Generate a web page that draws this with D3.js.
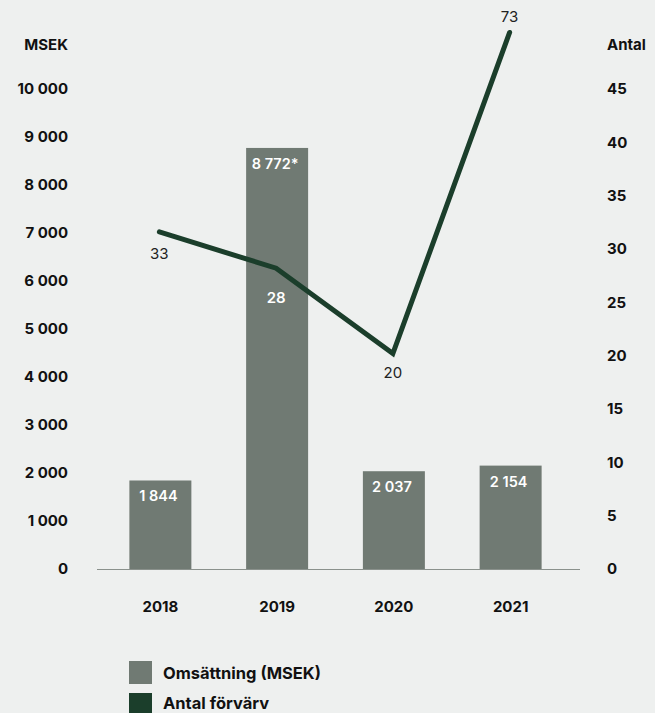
<!DOCTYPE html>
<html><head><meta charset="utf-8">
<script src="https://cdn.jsdelivr.net/npm/d3@7"></script>
<style>
html,body{margin:0;padding:0;background:#eef0ef;}
svg{display:block;font-family:Inter, "Noto Sans", sans-serif;}
</style></head>
<body><svg id="c" width="655" height="713"></svg>
<script>
// ---- data ----
const years = ["2018", "2019", "2020", "2021"];
const omsattning = [1844, 8772, 2037, 2154];
const omsattningLabels = ["1 844", "8 772*", "2 037", "2 154"];
const antal = [33, 28, 20, 73];               // labelled values
const antalPlotted = [31.6, 28.2, 20.2, 50.3]; // positions as drawn in the reference
const leftTicks = [0, 1000, 2000, 3000, 4000, 5000, 6000, 7000, 8000, 9000, 10000];
const rightTicks = [0, 5, 10, 15, 20, 25, 30, 35, 40, 45];
const legendItems = ["Omsättning (MSEK)", "Antal förvärv"];

const barColor = "#707a73", lineColor = "#1b3e2b", textColor = "#111";
const svg = d3.select("#c");
svg.append("rect").attr("width", 655).attr("height", 713).attr("fill", "#eef0ef");

const x = d3.scaleBand().domain(years).range([102, 569]).paddingInner(0.469).paddingOuter(0.2345);
const yL = d3.scaleLinear().domain([0, 10000]).range([569, 89]);
const yR = d3.scaleLinear().domain([0, 45]).range([569, 89]);
const loc = d3.formatLocale({decimal: ",", thousands: " ", grouping: [3], currency: ["", ""]});
const fmt = loc.format(",d");

// left axis
const gL = svg.append("g").attr("transform", "translate(68,0)")
  .call(d3.axisLeft(yL).tickValues(leftTicks).tickFormat(fmt).tickSize(0).tickPadding(0));
gL.select(".domain").remove();
gL.selectAll("text").attr("font-size", 15).attr("font-weight", 700).attr("fill", textColor)
  .attr("font-family", "Inter, sans-serif");
svg.append("text").attr("x", 68).attr("y", 50).attr("text-anchor", "end")
  .attr("font-size", 15).attr("font-weight", 700).attr("fill", textColor).text("MSEK");

// right axis
const gR = svg.append("g").attr("transform", "translate(607,0)")
  .call(d3.axisRight(yR).tickValues(rightTicks).tickSize(0).tickPadding(0));
gR.select(".domain").remove();
gR.selectAll("text").attr("font-size", 15).attr("font-weight", 700).attr("fill", textColor)
  .attr("font-family", "Inter, sans-serif");
svg.append("text").attr("x", 607).attr("y", 50).attr("text-anchor", "start")
  .attr("font-size", 15).attr("font-weight", 700).attr("fill", textColor).text("Antal");

// bars
svg.selectAll("rect.bar").data(years).join("rect").attr("class", "bar")
  .attr("x", d => x(d)).attr("width", x.bandwidth())
  .attr("y", (d, i) => yL(omsattning[i])).attr("height", (d, i) => yL(0) - yL(omsattning[i]))
  .attr("fill", barColor);
svg.selectAll("text.blab").data(years).join("text").attr("class", "blab")
  .attr("x", d => x(d) + x.bandwidth() / 2 - 2).attr("y", (d, i) => yL(omsattning[i]) + 21)
  .attr("text-anchor", "middle").attr("font-size", 14.5).attr("font-weight", 600).attr("fill", "#fff")
  .text((d, i) => omsattningLabels[i]);

// baseline
svg.append("line").attr("x1", 97).attr("x2", 580).attr("y1", yL(0) + 0.5).attr("y2", yL(0) + 0.5)
  .attr("stroke", "#8a918c").attr("stroke-width", 1);

// x labels
svg.selectAll("text.xl").data(years).join("text").attr("class", "xl")
  .attr("x", d => x(d) + x.bandwidth() / 2).attr("y", 612).attr("text-anchor", "middle")
  .attr("font-size", 15).attr("font-weight", 700).attr("fill", textColor).text(d => d);

// line
const cx = i => x(years[i]) + x.bandwidth() / 2 - 1;
const lineGen = d3.line().x((d, i) => cx(i)).y(d => yR(d));
svg.append("path").datum(antalPlotted).attr("d", lineGen).attr("fill", "none")
  .attr("stroke", lineColor).attr("stroke-width", 5).attr("stroke-linecap", "round").attr("stroke-linejoin", "miter");

// line labels
const lblOff = [27, 35, 24, -10];
const lblStyle = [
  {fill: "#222", w: 400}, {fill: "#fff", w: 600}, {fill: "#222", w: 400}, {fill: "#222", w: 400}
];
svg.selectAll("text.ll").data(antal).join("text").attr("class", "ll")
  .attr("x", (d, i) => cx(i))
  .attr("y", (d, i) => yR(antalPlotted[i]) + lblOff[i])
  .attr("text-anchor", "middle").attr("font-size", 15)
  .attr("font-weight", (d, i) => lblStyle[i].w).attr("fill", (d, i) => lblStyle[i].fill)
  .text(d => d);

// legend
const lg = svg.append("g");
const legColors = [barColor, lineColor];
legendItems.forEach((t, i) => {
  lg.append("rect").attr("x", 129).attr("y", 661 + i * 32).attr("width", 23).attr("height", 23).attr("fill", legColors[i]);
  lg.append("text").attr("x", 163).attr("y", 679 + i * 30).attr("font-size", 16.5).attr("font-weight", 700)
    .attr("fill", textColor).text(t);
});
</script></body></html>
